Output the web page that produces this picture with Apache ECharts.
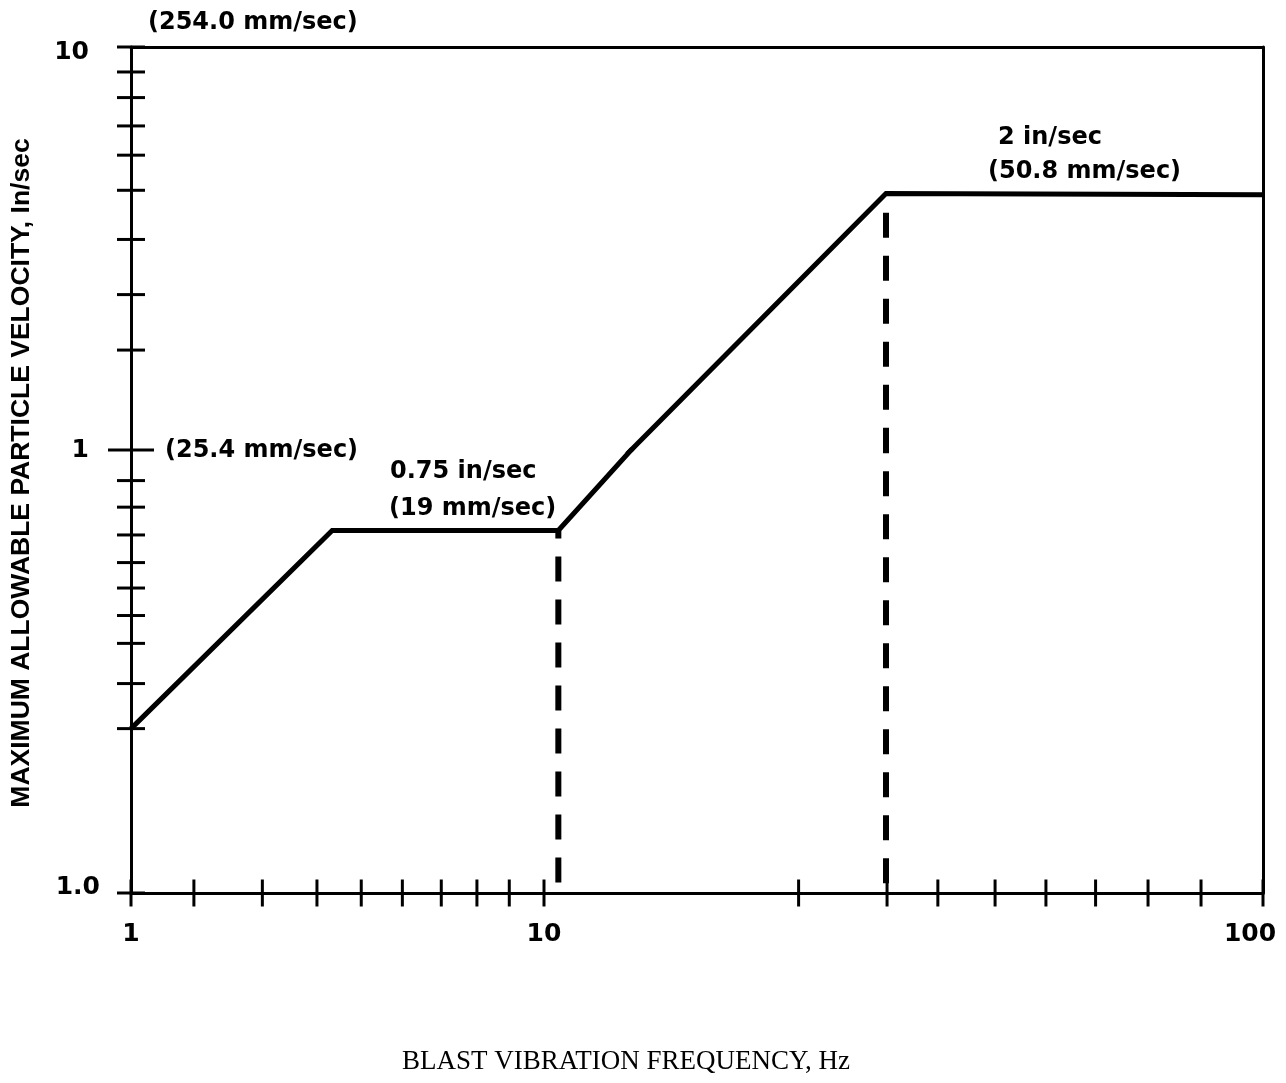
<!DOCTYPE html>
<html>
<head>
<meta charset="utf-8">
<script src="https://cdn.jsdelivr.net/npm/echarts@6/dist/echarts.min.js"></script>
<style>
html,body{margin:0;padding:0;background:#ffffff;}
#chart{width:1286px;height:1083px;}
</style>
</head>
<body>
<div id="chart"></div>
<script>
// ---- Data ----
const freqHz        = [1, 3.07, 10.47, 29.9, 100];
const velocityInSec = [0.235, 0.658, 0.658, 4.33, 4.30];

const limitFreqHz   = [10.47, 29.9];   // dashed verticals
const limitTopInSec = [0.658, 4.33];

// tick marks as drawn on the original axes
const xTicksLow   = [1, 1.42, 2.08, 2.82, 3.61, 4.54, 5.64, 6.88, 8.24, 10];
const xTicksHigh  = [22.6, 30.0, 35.3, 42.4, 49.9, 58.5, 69.2, 82.0, 100];
const yTicksUpper = [1.77, 2.43, 3.33, 4.41, 5.39, 6.37, 7.49, 8.67, 10];
const yTicksLower = [0.1, 0.235, 0.297, 0.366, 0.423, 0.488, 0.557, 0.643, 0.743, 0.853];
const yMajorTicks = [1];

const xLabelValues = [1, 10, 100];
const xLabelTexts  = ['1', '10', '100'];
const yLabelValues = [0.1, 1, 10];
const yLabelTexts  = ['1.0', '1', '10'];

const annotationTexts = ['(254.0 mm/sec)', '(25.4 mm/sec)', '0.75 in/sec', '(19 mm/sec)', '2 in/sec', '(50.8 mm/sec)'];
const xTitle = 'BLAST VIBRATION FREQUENCY, Hz';
const yTitle = 'MAXIMUM ALLOWABLE PARTICLE VELOCITY, In/sec';

// ---- Layout (one grid per decade block, as the original decades differ in length) ----
const X1 = 131, X10 = 544, X100 = 1263, Y10 = 47, Y1 = 450, Y01 = 893;
const BOLD = '"DejaVu Sans", "Liberation Sans", sans-serif';

function findText(values, texts, v) {
  for (let i = 0; i < values.length; i++) {
    if (Math.abs(Math.log10(v) - Math.log10(values[i])) < 1e-6) return texts[i];
  }
  return '';
}

const gridDefs = [
  { left: X1,  top: Y10, width: X10 - X1,   height: Y1 - Y10 },
  { left: X10, top: Y10, width: X100 - X10, height: Y1 - Y10 },
  { left: X1,  top: Y1,  width: X10 - X1,   height: Y01 - Y1 },
  { left: X10, top: Y1,  width: X100 - X10, height: Y01 - Y1 }
];
const xRanges = [[1, 10], [10, 100], [1, 10], [10, 100]];
const yRanges = [[1, 10], [1, 10], [0.1, 1], [0.1, 1]];
const xPos = ['top', 'top', 'bottom', 'bottom'];
const yPos = ['left', 'right', 'left', 'right'];

const axisLineStyle = { show: true, onZero: false, lineStyle: { color: '#000', width: 3 } };
const fontBase = { color: '#000', fontFamily: BOLD, fontWeight: 'bold', fontSize: 25 };
const richY = {
  n:  Object.assign({}, fontBase),
  dn: Object.assign({ padding: [10, 0, 0, 0] }, fontBase),
  up: Object.assign({ padding: [0, 0, 12, 0] }, fontBase)
};

const xAxes = xRanges.map((r, i) => {
  const lab = Object.assign({}, fontBase, {
    show: i >= 2,
    margin: 29,
    formatter: v => findText(xLabelValues, xLabelTexts, v),
    showMinLabel: i === 2,
    showMaxLabel: true
  });
  if (i === 3) lab.padding = [0, 26, 0, 0];
  return {
    type: 'log', logBase: 10, gridIndex: i, min: r[0], max: r[1], position: xPos[i],
    axisLine: axisLineStyle, axisTick: { show: false }, minorTick: { show: false },
    splitLine: { show: false }, axisLabel: lab
  };
});

const yAxes = yRanges.map((r, i) => {
  const lab = Object.assign({}, fontBase, {
    show: i === 0 || i === 2,
    rich: richY,
    formatter: v => {
      const t = findText(yLabelValues, yLabelTexts, v);
      if (!t) return '';
      const key = v > 5 ? 'dn' : (v < 0.5 ? 'up' : 'n');
      return '{' + key + '|' + t + '}';
    }
  });
  if (i === 0) { lab.margin = 42; lab.showMinLabel = true; lab.showMaxLabel = true; }
  if (i === 2) { lab.margin = 31; lab.showMinLabel = true; lab.showMaxLabel = false; }
  return {
    type: 'log', logBase: 10, gridIndex: i, min: r[0], max: r[1], position: yPos[i],
    axisLine: axisLineStyle, axisTick: { show: false }, minorTick: { show: false },
    splitLine: { show: false }, axisLabel: lab
  };
});

const curve = freqHz.map((f, i) => [f, velocityInSec[i]]);
const series = [];

// main criterion line in each block (clipped to its block)
for (let g = 0; g < 4; g++) {
  series.push({
    type: 'line', xAxisIndex: g, yAxisIndex: g, data: curve, symbol: 'none', clip: true,
    silent: true, z: 5,
    lineStyle: { color: '#000', width: 5, join: 'miter', cap: 'butt' }
  });
}

// dashed verticals (dash phase per block)
const dashPhase = { '0-1': 0, '0-3': 17, '1-1': 23.7, '1-3': 40.8 };
limitFreqHz.forEach((f, k) => {
  [1, 3].forEach(g => {
    series.push({
      type: 'line', xAxisIndex: g, yAxisIndex: g, symbol: 'none', clip: true, silent: true, z: 4,
      data: [[f, limitTopInSec[k]], [f, yRanges[3][0]]],
      lineStyle: { color: '#000', width: 6, type: [25, 18], dashOffset: dashPhase[k + '-' + g], cap: 'butt' }
    });
  });
});

// tick marks crossing the axes
function tickSeries(g, data, size) {
  return {
    type: 'scatter', xAxisIndex: g, yAxisIndex: g, data: data, symbol: 'rect',
    symbolSize: size, clip: false, silent: true, z: 6,
    itemStyle: { color: '#000', opacity: 1 }
  };
}
series.push(tickSeries(0, yTicksUpper.map(v => [1, v]), [28, 3]));
series.push(tickSeries(2, yTicksLower.map(v => [1, v]), [28, 3]));
series.push(tickSeries(0, yMajorTicks.map(v => [1, v]), [46, 3]));
series.push(tickSeries(2, xTicksLow.map(v => [v, 0.1]), [3, 27]));
series.push(tickSeries(3, xTicksHigh.map(v => [v, 0.1]), [3, 27]));

function boldText(txt, x, y) {
  return {
    type: 'text', x: x, y: y, silent: true, z: 10,
    style: { text: txt, fill: '#000', font: 'bold 24px ' + BOLD, textVerticalAlign: 'middle', verticalAlign: 'middle', textAlign: 'left', align: 'left' }
  };
}

const graphic = [
  boldText(annotationTexts[0], 148, 23),
  boldText(annotationTexts[1], 165, 451),
  boldText(annotationTexts[2], 390, 472),
  boldText(annotationTexts[3], 389, 509),
  boldText(annotationTexts[4], 998, 138),
  boldText(annotationTexts[5], 988, 172),
  {
    type: 'text', x: 22, y: 473, rotation: Math.PI / 2, silent: true, z: 10,
    style: { text: yTitle, fill: '#000', font: 'bold 26.5px "Liberation Sans", Arial, sans-serif',
      textAlign: 'center', align: 'center', textVerticalAlign: 'middle', verticalAlign: 'middle' }
  },
  {
    type: 'text', x: 626, y: 1062, silent: true, z: 10,
    style: { text: xTitle, fill: '#000', font: '27px "Liberation Serif", "Times New Roman", serif',
      textAlign: 'center', align: 'center', textVerticalAlign: 'middle', verticalAlign: 'middle' }
  }
];

const chart = echarts.init(document.getElementById('chart'), null, { renderer: 'canvas' });
chart.setOption({
  backgroundColor: '#ffffff',
  animation: false,
  grid: gridDefs.map(d => Object.assign({ containLabel: false, outerBoundsMode: 'none', show: false }, d)),
  xAxis: xAxes,
  yAxis: yAxes,
  series: series,
  graphic: graphic
});
</script>
</body>
</html>
